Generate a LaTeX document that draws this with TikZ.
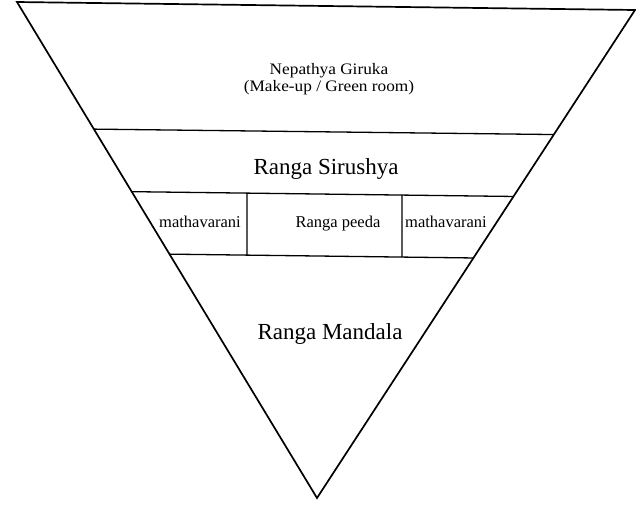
\documentclass[tikz,border=0pt]{standalone}
\usepackage{fontspec}
\setmainfont{Liberation Serif}
\usepackage{graphicx}
\begin{document}
\begin{tikzpicture}[x=1pt,y=-1pt,
  edge/.style={line width=1.7pt,line join=miter},
  band/.style={line width=1.3pt},
  divider/.style={line width=1.1pt},
  bigtxt/.style={font=\fontsize{23}{27}\selectfont,inner sep=0pt},
  smalltxt/.style={font=\fontsize{16.5}{19}\selectfont,inner sep=0pt,anchor=base},
  widetxt/.style={font=\fontsize{16}{18}\selectfont,inner sep=0pt,align=center}]
\useasboundingbox (0,0) rectangle (636,504);
% corners of the triangle
\coordinate (TL) at (17,2);
\coordinate (TR) at (635,10);
\coordinate (A) at (317,498);
\draw[edge] (TL) -- (TR) -- (A) -- cycle;
% band lines
\coordinate (L1l) at (intersection of TL--A and 0,128--636,135.5);
\coordinate (L1r) at (intersection of TR--A and 0,128--636,135.5);
\coordinate (L2l) at (intersection of TL--A and 0,190--636,198);
\coordinate (L2r) at (intersection of TR--A and 0,190--636,198);
\coordinate (L3l) at (intersection of TL--A and 0,252--636,260);
\coordinate (L3r) at (intersection of TR--A and 0,252--636,260);
\draw[band] (L1l) -- (L1r);
\draw[band] (L2l) -- (L2r);
\draw[band] (L3l) -- (L3r);
% dividers
\coordinate (D1t) at (intersection of L2l--L2r and 247,0--247,504);
\coordinate (D1b) at (intersection of L3l--L3r and 247,0--247,504);
\coordinate (D2t) at (intersection of L2l--L2r and 402,0--402,504);
\coordinate (D2b) at (intersection of L3l--L3r and 402,0--402,504);
\draw[divider] (D1t) -- (D1b);
\draw[divider] (D2t) -- (D2b);
% texts
\node[widetxt] (nep) at (329,79) {\scalebox{1.08}[1]{Nepathya Giruka}\\[-1pt]\scalebox{1.08}[1]{(Make-up / Green room)}};
\node[bigtxt] (sir) at (326,169) {Ranga Sirushya};
\node[smalltxt] (mat1) at (200,227) {mathavarani};
\node[smalltxt] (peeda) at (338,227) {Ranga peeda};
\node[smalltxt] (mat2) at (446,227) {mathavarani};
\node[bigtxt] (man) at (330,334) {Ranga Mandala};
\end{tikzpicture}
\end{document}
